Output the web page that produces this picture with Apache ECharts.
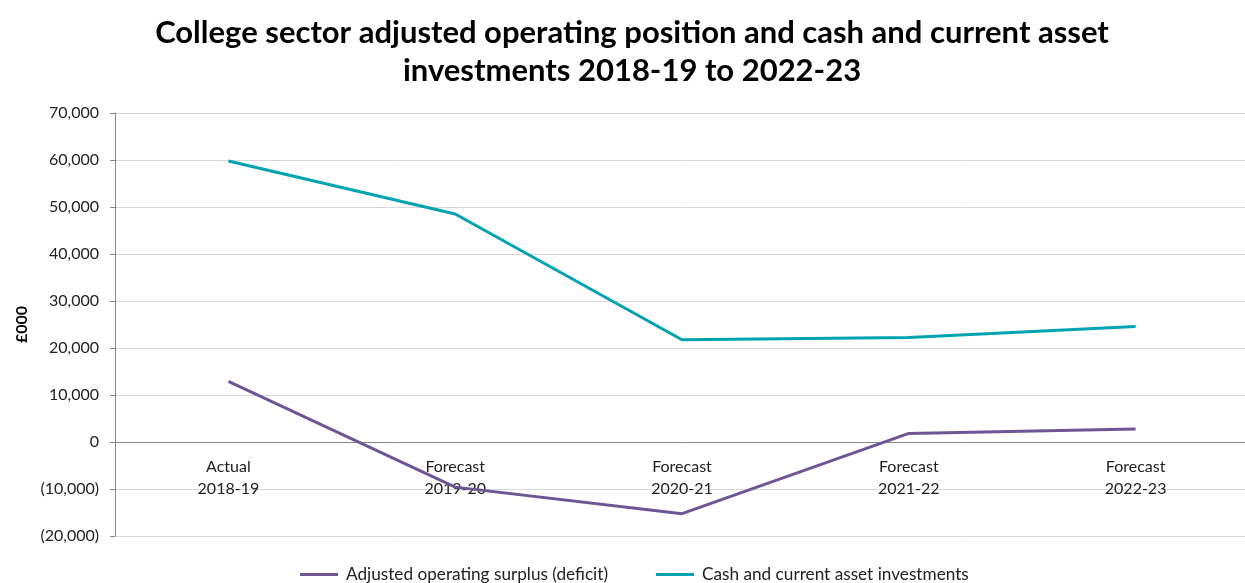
<!DOCTYPE html>
<html>
<head>
<meta charset="utf-8">
<script src="https://cdn.jsdelivr.net/npm/echarts@6/dist/echarts.min.js"></script>
<style>html,body{margin:0;padding:0;background:#fff}#c{width:1245px;height:583px}</style>
</head>
<body>
<div id="c"></div>
<script>
const categories = ['Actual\n2018-19', 'Forecast\n2019-20', 'Forecast\n2020-21', 'Forecast\n2021-22', 'Forecast\n2022-23'];
const surplus = [12900, -9600, -15250, 1830, 2770];
const cash = [59800, 48500, 21750, 22250, 24600];
const seriesNames = ['Adjusted operating surplus (deficit)', 'Cash and current asset investments'];
const titleText = 'College sector adjusted operating position and cash and current asset\ninvestments 2018-19 to 2022-23';
const yMin = -20000, yMax = 70000, yStep = 10000;

const chart = echarts.init(document.getElementById('c'), null, {renderer: 'canvas'});
const font = 'Lato, "Open Sans", sans-serif';
chart.setOption({
  animation: false,
  title: {
    text: titleText,
    left: 627, textAlign: 'center', top: 9,
    textStyle: {fontFamily: font, fontWeight: 'bold', fontSize: 31, color: '#000', lineHeight: 38}
  },
  legend: {
    top: 561, left: 295,
    itemWidth: 38, itemHeight: 3, itemGap: 48,
    icon: 'rect',
    textStyle: {fontFamily: font, fontSize: 17.2, color: '#222', padding: [0, 0, 0, 3]},
    data: seriesNames
  },
  grid: {left: 115, top: 113, width: 1134, bottom: 47, containLabel: false, outerBoundsMode: 'none'},
  xAxis: {
    type: 'category',
    data: categories,
    axisLine: {onZero: false, lineStyle: {color: '#868686', width: 1}},
    axisTick: {alignWithLabel: true, length: 5, lineStyle: {color: '#868686'}},
    axisLabel: {fontFamily: font, fontSize: 16, color: '#222', lineHeight: 22, margin: 14}
  },
  yAxis: {
    type: 'value', min: yMin, max: yMax, interval: yStep,
    name: '£000', nameLocation: 'middle', nameGap: 85, nameRotate: 90,
    nameTextStyle: {fontFamily: font, fontWeight: 'bold', fontSize: 16, color: '#000'},
    axisLine: {show: true, lineStyle: {color: '#868686'}},
    axisTick: {show: true, length: 5, lineStyle: {color: '#868686'}},
    splitLine: {lineStyle: {color: '#d9d9d9', width: 1}},
    axisLabel: {
      fontFamily: font, fontSize: 16, color: '#222', margin: 16,
      formatter: v => {
        const s = Math.abs(v).toLocaleString('en-GB');
        return v < 0 ? '(' + s + ')' : s;
      }
    }
  },
  series: [
    {name: seriesNames[0], type: 'line', data: surplus, symbol: 'none',
     lineStyle: {color: '#6e5594', width: 3}, itemStyle: {color: '#6e5594'}},
    {name: seriesNames[1], type: 'line', data: cash, symbol: 'none',
     lineStyle: {color: '#00a3b1', width: 3}, itemStyle: {color: '#00a3b1'}}
  ]
});
// move the category axis (line, ticks, labels) up to the zero line
const yZero = chart.convertToPixel({yAxisIndex: 0}, 0);
const yBottom = chart.convertToPixel({yAxisIndex: 0}, yMin);
chart.setOption({xAxis: {offset: -(yBottom - yZero)}});
</script>
</body>
</html>
